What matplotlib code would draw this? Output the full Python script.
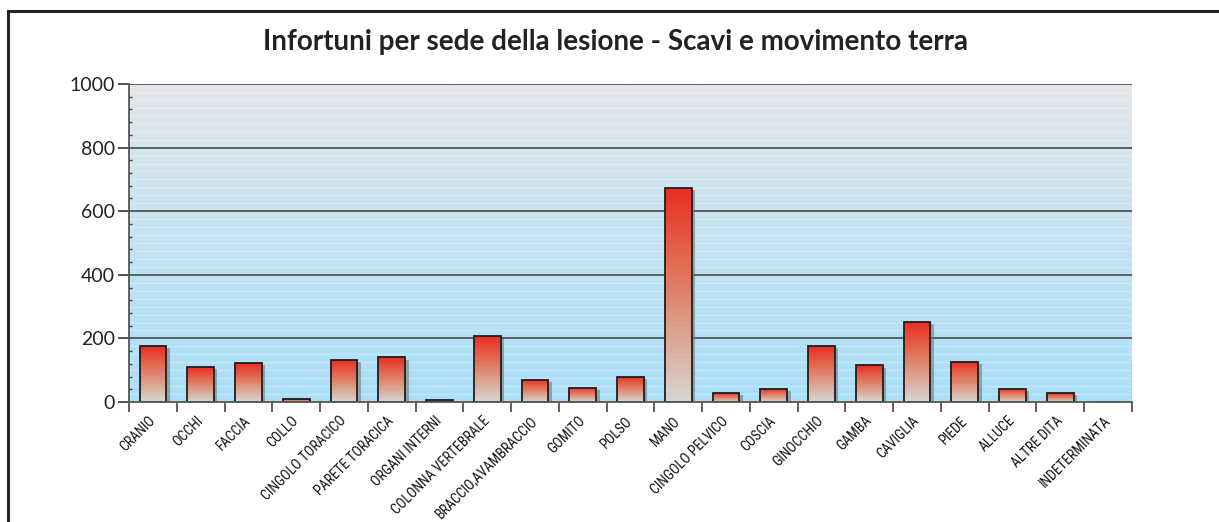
import numpy as np
import matplotlib
matplotlib.use("Agg")
import matplotlib.pyplot as plt
import matplotlib.patheffects as pe
from matplotlib.colors import LinearSegmentedColormap
from matplotlib.lines import Line2D

# dati
sedi = ["CRANIO", "OCCHI", "FACCIA", "COLLO", "CINGOLO TORACICO", "PARETE TORACICA",
        "ORGANI INTERNI", "COLONNA VERTEBRALE", "BRACCIO,AVAMBRACCIO", "GOMITO", "POLSO",
        "MANO", "CINGOLO PELVICO", "COSCIA", "GINOCCHIO", "GAMBA", "CAVIGLIA", "PIEDE",
        "ALLUCE", "ALTRE DITA", "INDETERMINATA"]
infortuni = [175, 109, 122, 8, 132, 140, 7, 206, 70, 45, 79,
             672, 27, 42, 176, 115, 251, 126, 42, 27, 1]
y_ticks = [0, 200, 400, 600, 800, 1000]
titolo = "Infortuni per sede della lesione - Scavi e movimento terra"

fig = plt.figure(figsize=(12.19, 5.22), dpi=100)
ax = fig.add_axes([129 / 1219, 120 / 522, 1003 / 1219, 318 / 522])

# cornice esterna (solo lato sinistro e superiore visibili)
fy = 1 - 10.5 / 522
fx = 7.5 / 1219
fig.lines.append(Line2D([fx, fx, 1.0], [0.0, fy, fy], transform=fig.transFigure,
                        color="#222222", lw=2.2, solid_joinstyle="miter"))

n = len(sedi)
x = np.arange(n)
ax.set_xlim(-0.5, n - 0.5)
ax.set_ylim(0, 1000)

# sfondo sfumato
bg = LinearSegmentedColormap.from_list("bg", ["#aadff8", "#c4e3f2", "#e3e6e9"])
ax.imshow(np.linspace(0, 1, 256).reshape(-1, 1), cmap=bg, origin="lower", aspect="auto",
          extent=(-0.5, n - 0.5, 0, 1000), zorder=0)
for yy in np.arange(25, 1000, 25):
    ax.axhline(yy, color="white", lw=0.8, alpha=0.3, zorder=1)
for yy in y_ticks[1:]:
    ax.axhline(yy, color="#3a3a3a", lw=1.1, zorder=1.5)

# barre con ombra e sfumatura
bars = ax.bar(x, infortuni, width=0.56, color="#999999", zorder=2,
              path_effects=[pe.SimplePatchShadow(offset=(2.5, -1.5), shadow_rgbFace="#777777", alpha=0.6),
                            pe.Normal()])
barcm = LinearSegmentedColormap.from_list("bar", ["#d8d4d1", "#dca08c", "#e26a50", "#ea2f27"])
grad = np.linspace(0, 1, 40).reshape(-1, 1)
for b in bars:
    im = ax.imshow(grad, cmap=barcm, origin="lower", aspect="auto", interpolation="nearest",
                   extent=(b.get_x(), b.get_x() + b.get_width(), 0, max(b.get_height(), 0.5)),
                   zorder=3)
    im.set_clip_path(b)
ax.bar(x, infortuni, width=0.56, facecolor="none", edgecolor="#1e1e1e", lw=1.3, zorder=4)

# assi
for s in ["top", "right"]:
    ax.spines[s].set_visible(False)
for s in ["left", "bottom"]:
    ax.spines[s].set_color("#555555")
    ax.spines[s].set_linewidth(1.3)
    ax.spines[s].set_zorder(5)

ax.set_yticks(y_ticks)
ax.set_yticks(np.arange(40, 1000, 40), minor=True)
ax.tick_params(axis="y", which="major", length=8, width=1.2, color="#333333", labelsize=14,
               labelcolor="#222222", pad=2)
ax.tick_params(axis="y", which="minor", direction="in", length=2, width=1, color="#444444")
for lab in ax.get_yticklabels():
    lab.set_family(["Lato", "DejaVu Sans"])

ax.set_xticks(x)
ax.set_xticks(np.arange(-0.5, n, 1.0), minor=True)
ax.tick_params(axis="x", which="major", length=0, pad=12)
ax.tick_params(axis="x", which="minor", length=7, width=1.2, color="#444444")
ax.set_xticklabels(sedi, rotation=45, ha="right", va="center", rotation_mode="anchor",
                   fontsize=10, color="#111111", fontstretch="condensed",
                   family=["Roboto Condensed", "Open Sans Condensed", "Liberation Sans Narrow",
                           "Noto Sans", "DejaVu Sans"])

fig.text(0.505, 1 - 42 / 522, titolo, ha="center", va="center", fontsize=20,
         fontweight="bold", color="#222222", family=["Lato", "DejaVu Sans"])

fig.savefig("out.png", dpi=100)
